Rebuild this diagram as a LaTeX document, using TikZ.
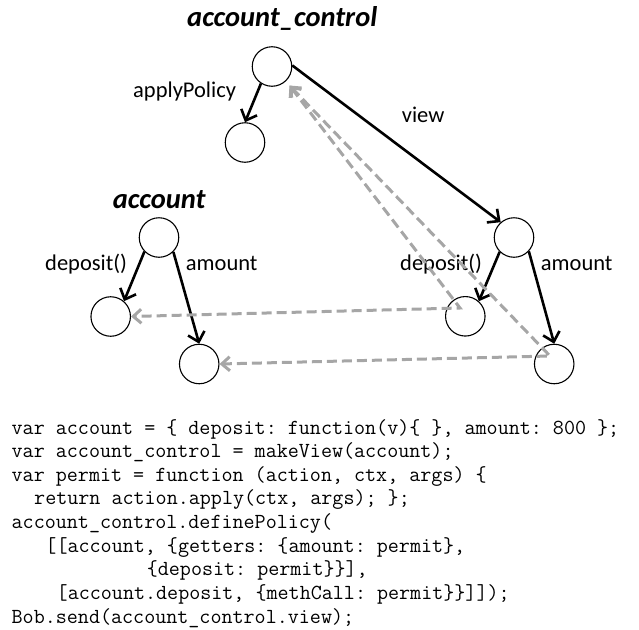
\documentclass[tikz,border=0pt]{standalone}
\usepackage{fontspec}
\newfontfamily\labfont{Carlito}
\usetikzlibrary{arrows.meta,calc}
\definecolor{relgray}{RGB}{166,166,166}
\begin{document}
\begin{tikzpicture}[x=1pt,y=-1pt,
  obj/.style={circle,draw,line width=1.1pt,minimum size=39.5pt,inner sep=0pt},
  lab/.style={inner sep=0pt,anchor=base west,font=\labfont\fontsize{22.5}{27}\selectfont},
  ttl/.style={inner sep=0pt,anchor=base west,font=\labfont\bfseries\itshape\fontsize{28.5}{34}\selectfont},
  refarrow/.style={line width=2.6pt,-{Straight Barb[length=9pt,width=17pt]}},
  relarrow/.style={line width=3pt,draw=relgray,dash pattern=on 10pt off 5pt,
     {Straight Barb[length=8pt,width=14pt]}-{Straight Barb[length=8pt,width=14pt]}},
  code/.style={inner sep=0pt,anchor=base west,font=\ttfamily\fontsize{21.45}{23.6}\selectfont\frenchspacing}
]
\useasboundingbox (0,0) rectangle (639,629);

% objects
\node[obj] (ac)  at (272,66.5) {};
\node[obj] (ap)  at (245,142.5) {};
\node[obj] (a)   at (159,237.5) {};
\node[obj] (ad)  at (110.7,316.5) {};
\node[obj] (aa)  at (199.2,364) {};
\node[obj] (v)   at (514,237.5) {};
\node[obj] (vd)  at (465.3,316.3) {};
\node[obj] (va)  at (554.2,364) {};

% titles and labels
\node[ttl] (tac) at (187,27) {account\_control};
\node[ttl] (ta)  at (112.7,208.3) {account};
\node[lab] (lap) at (133,97) {applyPolicy};
\node[lab] (lv)  at (401.7,122) {view};
\node[lab] (lad) at (45,270) {deposit()};
\node[lab] (laa) at (185.7,270) {amount};
\node[lab] (lvd) at (400,270) {deposit()};
\node[lab] (lva) at (540.7,270) {amount};

% reference arrows
\draw[refarrow] (ac.237) -- (ap.north);
\draw[refarrow] (ac.3) -- (v.131);
\draw[refarrow] (a.224) -- (ad.49);
\draw[refarrow] (a.315) -- (aa.north);
\draw[refarrow] (v.225) -- (vd.48);
\draw[refarrow] (v.317) -- (va.north);

% view relation (dashed)
\coordinate (acx) at ($(ac)+(17.5,19)$);
\coordinate (vdx) at ($(vd)+(-5.3,-8.3)$);
\coordinate (vax) at ($(va)+(-4.2,-8)$);
\draw[relarrow] (acx) -- (vdx) -- (ad.east);
\draw[relarrow] (acx) -- (vax) -- (aa.east);

% code
\node[code] (c1) at (11.5,434) {var account = \{ deposit: function(v)\{ \}, amount: 800 \};};
\node[code] (c2) at (11.5,457.6) {var account\_control = makeView(account);};
\node[code] (c3) at (11.5,481.2) {var permit = function (action, ctx, args) \{};
\node[code] (c4) at (34.02,504.9) {return action.apply(ctx, args); \};};
\node[code] (c5) at (11.5,528.5) {account\_control.definePolicy(};
\node[code] (c6) at (45.28,552.1) {[[account, \{getters: \{amount: permit\},};
\node[code] (c7) at (146.62,575.8) {\{deposit: permit\}\}],};
\node[code] (c8) at (56.54,599.4) {[account.deposit, \{methCall: permit\}\}]]);};
\node[code] (c9) at (11.5,623) {Bob.send(account\_control.view);};
\end{tikzpicture}
\end{document}
